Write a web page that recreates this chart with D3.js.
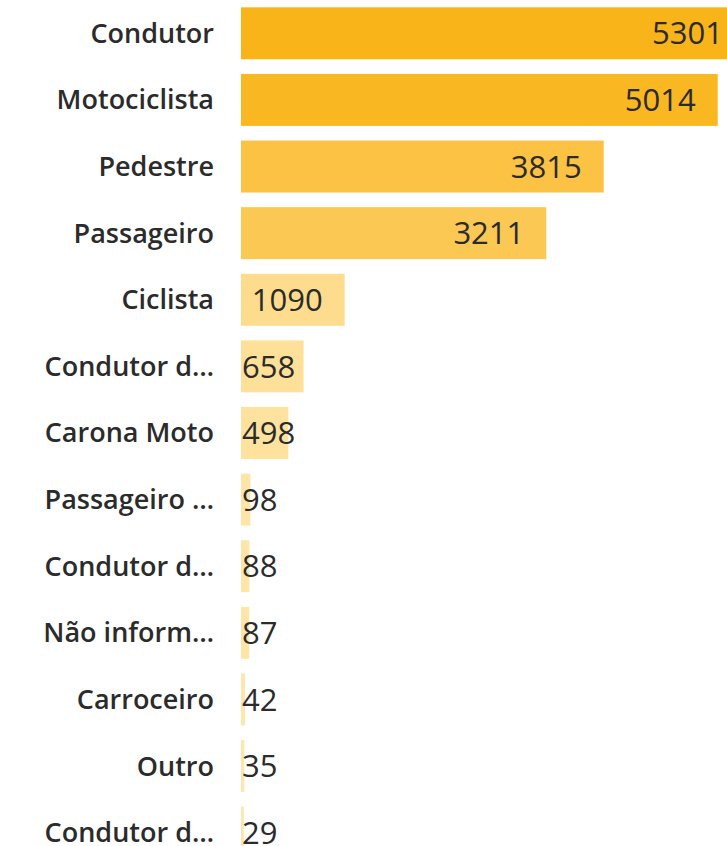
<!DOCTYPE html>
<html lang="pt">
	<head>
		<meta charset="UTF-8" />
		<title>Vítimas por tipo</title>
		<script src="https://d3js.org/d3.v7.min.js"></script>
		<style>
			html, body {
				margin: 0;
				padding: 0;
				background: #fff;
				overflow: hidden;
			}
			svg {
				display: block;
			}
			.cat {
				font-family: "Open Sans", sans-serif;
				font-weight: 600;
				font-size: 27px;
				fill: #2b2b2b;
			}
			.val {
				font-family: "Open Sans", sans-serif;
				font-size: 31px;
				fill: #2b2b2b;
			}
		</style>
	</head>
	<body>
		<svg id="chart"></svg>

		<script>
			// Data
			const CATEGORIES = [
				"Condutor",
				"Motociclista",
				"Pedestre",
				"Passageiro",
				"Ciclista",
				"Condutor d…",
				"Carona Moto",
				"Passageiro …",
				"Condutor d…",
				"Não inform…",
				"Carroceiro",
				"Outro",
				"Condutor d…",
			];
			const VALUES = [5301, 5014, 3815, 3211, 1090, 658, 498, 98, 88, 87, 42, 35, 29];

			const rows = CATEGORIES.map((c, i) => ({ id: "r" + i, cat: c, value: VALUES[i] }));

			// Constants
			const WIDTH = 727;
			const HEIGHT = 846;
			const BAR_X0 = 241;
			const LABEL_X = 214;
			const PAD = 22;

			const svg = d3.select("#chart").attr("width", WIDTH).attr("height", HEIGHT);

			// Scales
			const xScale = d3.scaleLinear().domain([0, 5301]).range([BAR_X0, 745]);
			const yScale = d3
				.scaleBand()
				.domain(rows.map((d) => d.id))
				.range([0, 866])
				.paddingInner(0.22)
				.paddingOuter(0.11);
			const colorScale = d3
				.scaleLinear()
				.domain([d3.min(VALUES), d3.max(VALUES)])
				.range(["#ffe6aa", "#f9b41a"]);

			// Bars
			svg.selectAll(".bar")
				.data(rows, (d) => d.id)
				.enter()
				.append("rect")
				.classed("bar", true)
				.attr("x", xScale(0))
				.attr("y", (d) => yScale(d.id))
				.attr("width", (d) => Math.max(2, xScale(d.value) - xScale(0)))
				.attr("height", yScale.bandwidth())
				.attr("fill", (d) => colorScale(d.value));

			// Category labels
			svg.selectAll(".cat")
				.data(rows, (d) => d.id)
				.enter()
				.append("text")
				.classed("cat", true)
				.attr("x", LABEL_X)
				.attr("y", (d) => yScale(d.id) + yScale.bandwidth() / 2)
				.attr("dy", "0.35em")
				.attr("text-anchor", "end")
				.text((d) => d.cat);

			// Value labels, inside end if they fit, otherwise at the bar start
			const vals = svg.selectAll(".val")
				.data(rows, (d) => d.id)
				.enter()
				.append("text")
				.classed("val", true)
				.attr("y", (d) => yScale(d.id) + yScale.bandwidth() / 2)
				.attr("dy", "0.36em")
				.text((d) => d.value);

			vals.each(function (d) {
				const w = this.getComputedTextLength();
				const end = Math.min(xScale(d.value), WIDTH + PAD) - PAD;
				const el = d3.select(this);
				if (end - w >= BAR_X0 + 2) {
					el.attr("x", end).attr("text-anchor", "end");
				} else {
					el.attr("x", BAR_X0 + 1).attr("text-anchor", "start");
				}
			});
		</script>
	</body>
</html>
